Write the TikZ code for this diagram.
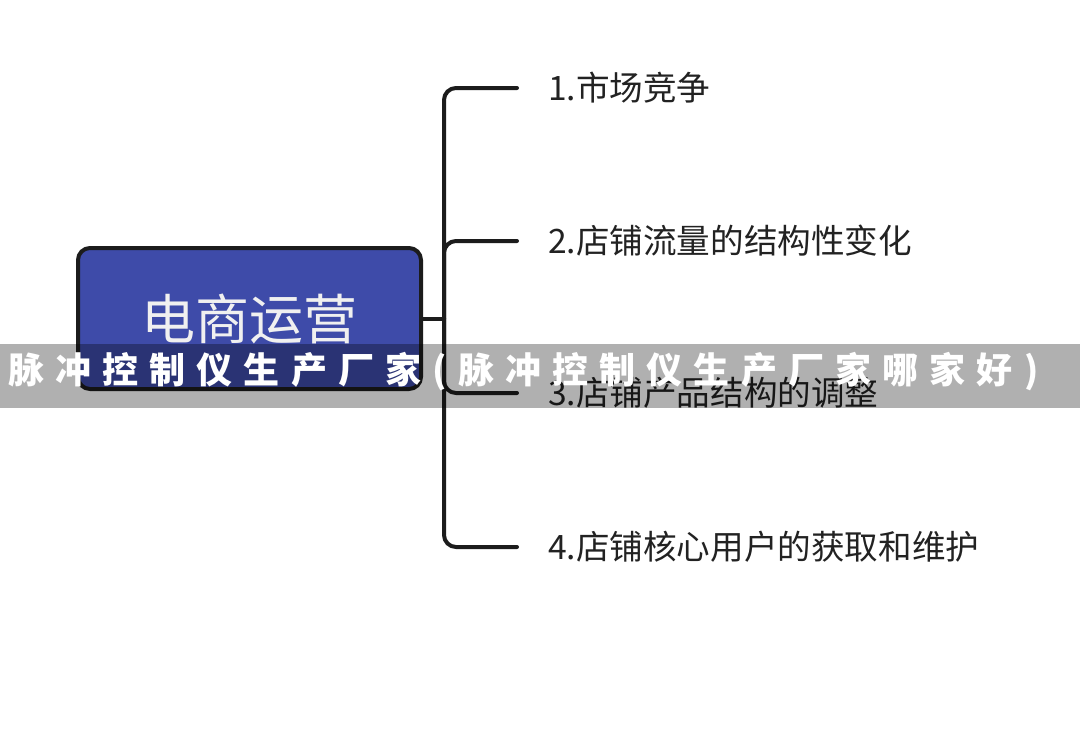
\documentclass[tikz,border=0pt]{standalone}
\usepackage{fontspec}
\newfontfamily\cjk{Noto Sans CJK SC}
\newfontfamily\bandfont{Noto Sans CJK SC}[LetterSpace=31]
\definecolor{boxblue}{HTML}{3E4BA9}
\definecolor{linedark}{HTML}{1C1C1C}
\definecolor{labeltext}{HTML}{222222}
\begin{document}
\begin{tikzpicture}[x=1pt,y=-1pt,
  centerbox/.style={draw=linedark,line width=4pt,fill=boxblue,rounded corners=12pt,
    minimum width=343pt,minimum height=141pt,inner sep=0pt,
    text=white!94!black,font=\cjk\fontsize{54}{60}\selectfont},
  branch/.style={draw=linedark,line width=4pt,rounded corners=12pt,line cap=round},
  leaflabel/.style={anchor=west,inner sep=0pt,text=labeltext,font=\cjk\fontsize{33.6}{38}\selectfont},
  bandtext/.style={anchor=west,inner sep=0pt,text=white,font=\bandfont\bfseries\fontsize{36}{40}\selectfont}]
\useasboundingbox (0,0) rectangle (1080,731);
\fill[white] (0,0) rectangle (1080,731);
\node[centerbox] (root) at (249.5,318.5) {电商运营};
\coordinate (hub) at (444,318.5);
\coordinate (e1) at (517,88);
\coordinate (e2) at (517,241);
\coordinate (e3) at (517,393);
\coordinate (e4) at (517,547);
\draw[branch] (root.east) -- (hub);
\draw[branch] (hub) |- (e1);
\draw[branch] (hub) |- (e2);
\draw[branch] (hub) |- (e3);
\draw[branch] (hub) |- (e4);
\node[leaflabel] (l1) at (548,88) {1.市场竞争};
\node[leaflabel] (l2) at (548,241) {2.店铺流量的结构性变化};
\node[leaflabel] (l3) at (548,393) {3.店铺产品结构的调整};
\node[leaflabel] (l4) at (548,547) {4.店铺核心用户的获取和维护};
\fill[black,opacity=0.31] (0,344) rectangle (1080,408);
\node[bandtext] (band) at (8,372) {脉冲控制仪生产厂家(脉冲控制仪生产厂家哪家好)};
\end{tikzpicture}
\end{document}
